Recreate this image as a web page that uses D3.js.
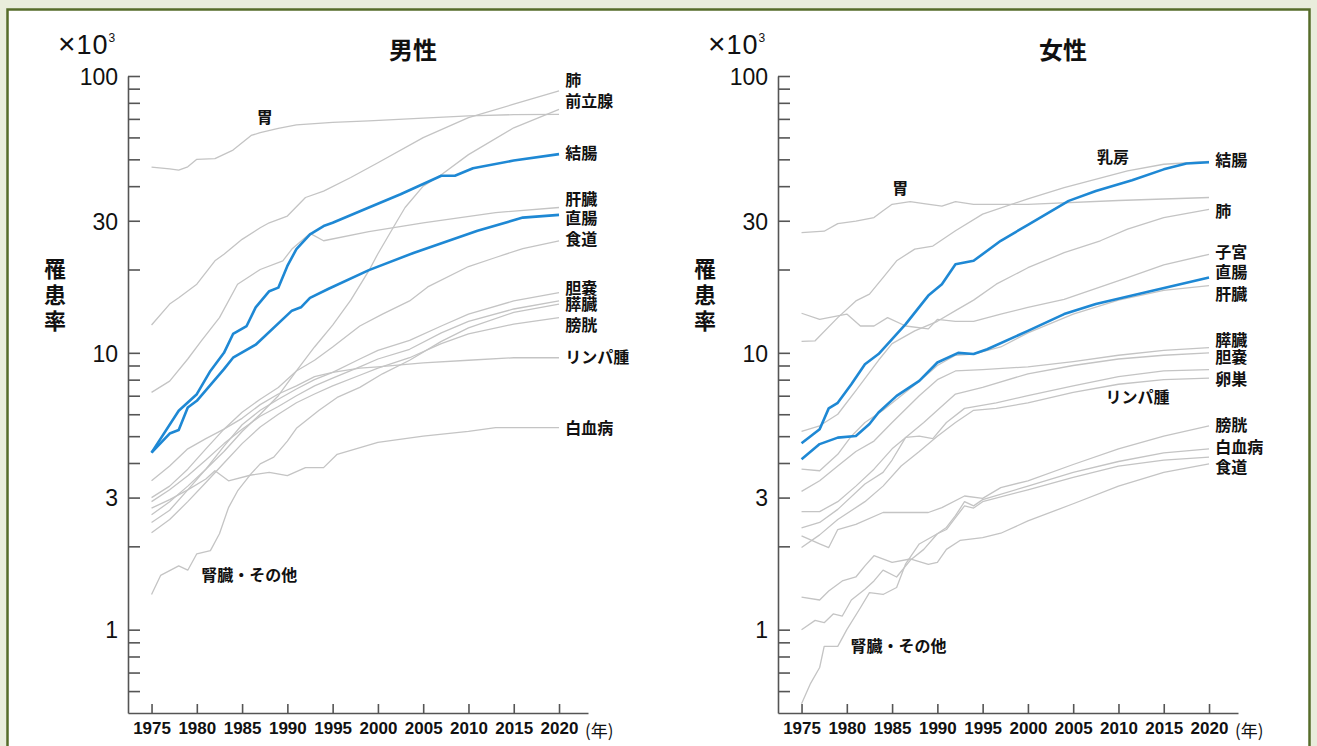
<!DOCTYPE html>
<html>
<head>
<meta charset="utf-8">
<script src="https://cdn.jsdelivr.net/npm/d3@7"></script>
<style>
  body { margin: 0; background: #e9eddc; }
  svg { display: block; }
</style>
</head>
<body>
<svg id="chart" width="1317" height="746"></svg>
<script>
// ---- data (values in 10^3) ----
const yearTicks = [1975, 1980, 1985, 1990, 1995, 2000, 2005, 2010, 2015, 2020];
const yLabelTicks = [1, 3, 10, 30, 100];
const yMinorTicks = [0.6, 0.7, 0.8, 0.9, 1, 2, 3, 4, 5, 6, 7, 8, 9, 10, 20, 30, 40, 50, 60, 70, 80, 90, 100];

// 男性
const mStomach = [[1975,46.9],[1977,46.2],[1978,45.7],[1979,47.0],[1980,50.0],[1982,50.3],[1984,54.0],[1986,61.0],[1987,62.4],[1989,64.7],[1991,66.6],[1995,68.0],[1999,68.8],[2005,70.5],[2010,71.8],[2015,72.5],[2020,72.7]];
const mLung = [[1975,12.6],[1977,15.0],[1978,15.8],[1980,17.7],[1982,21.5],[1983,22.7],[1985,25.7],[1987,28.3],[1988,29.5],[1990,31.2],[1992,36.4],[1994,38.4],[1997,43.0],[2000,48.6],[2005,59.9],[2010,70.7],[2015,79.1],[2020,88.3]];
const mProstate = [[1975,2.6],[1977,2.9],[1979,3.3],[1981,3.8],[1983,4.4],[1985,5.2],[1987,6.0],[1989,7.0],[1991,8.6],[1993,10.5],[1995,12.6],[1997,15.5],[1999,19.8],[2000,22.8],[2002,29.5],[2003,33.5],[2005,40.0],[2007,44.0],[2010,52.0],[2015,65.0],[2020,75.8]];
const mColon = [[1975,4.36],[1978,6.18],[1980,7.09],[1981.5,8.6],[1983,10.0],[1984,11.7],[1985.5,12.5],[1986.5,14.6],[1988,16.7],[1989,17.2],[1990,20.6],[1991,23.7],[1992.5,26.8],[1994,28.7],[1995,29.5],[1999,33.5],[2002.5,37.4],[2007,43.6],[2008.5,43.6],[2010.5,46.4],[2015,49.5],[2020,52.2]];
const mRectum = [[1975,4.36],[1977,5.11],[1978,5.26],[1979,6.35],[1980,6.71],[1983,8.73],[1984,9.6],[1986.5,10.7],[1990.5,14.2],[1991.5,14.6],[1992.5,15.8],[1994.5,17.0],[1999,19.9],[2004,23.0],[2011,27.6],[2016,30.8],[2020,31.5]];
const mLiver = [[1975,7.2],[1977,7.9],[1979,9.5],[1980.5,11.05],[1982.5,13.4],[1984.5,17.7],[1987,20.0],[1989.5,21.5],[1990.5,23.7],[1992.5,27.0],[1994,25.4],[1999,27.4],[2005,29.5],[2013,32.1],[2020,33.5]];
const mEsophagus = [[1975,3.0],[1977,3.3],[1979,3.8],[1981,4.5],[1983,5.3],[1985,6.1],[1987,6.8],[1989,7.5],[1991,8.6],[1993,9.4],[1995,10.5],[1998,12.5],[2000.5,13.8],[2003.5,15.4],[2005.5,17.3],[2010,20.5],[2013,22.1],[2016,23.8],[2020,25.4]];
const mGallbladder = [[1975,2.44],[1977,2.7],[1979,3.2],[1981,3.8],[1983,4.6],[1985,5.5],[1987,6.2],[1989,6.8],[1991,7.4],[1993,8.0],[1995,8.5],[1998,9.5],[2000,10.2],[2003.5,11.1],[2007,12.5],[2010,13.8],[2015,15.4],[2020,16.5]];
const mPancreas = [[1975,2.9],[1977,3.2],[1979,3.6],[1981,4.1],[1983,4.7],[1985,5.3],[1987,5.9],[1989,6.4],[1991,7.0],[1993,7.6],[1995,8.1],[1998,8.9],[2000,9.5],[2003.5,10.3],[2007,11.8],[2010,13.0],[2015,14.4],[2020,15.4]];
const mBladder = [[1975,2.24],[1977,2.5],[1979,2.9],[1981,3.4],[1983,4.0],[1985,4.7],[1987,5.4],[1989,6.0],[1991,6.6],[1993,7.1],[1995,7.6],[1998,8.3],[2000,8.8],[2003.5,9.6],[2007,10.8],[2010,11.7],[2015,12.7],[2020,13.4]];
const mLymphoma = [[1975,3.45],[1977,3.9],[1979,4.5],[1981,4.9],[1983,5.3],[1985,5.8],[1987,6.5],[1989,7.1],[1991,7.6],[1993,8.2],[1995,8.5],[1998,8.8],[2000,8.9],[2005,9.2],[2010,9.4],[2015,9.6],[2020,9.6]];
const mLeukemia = [[1975,2.75],[1977,2.95],[1979,3.2],[1981,3.5],[1982,3.75],[1983.5,3.45],[1986,3.62],[1988,3.7],[1990,3.6],[1992,3.85],[1994,3.85],[1995.5,4.3],[2000,4.75],[2005,5.0],[2010,5.2],[2013,5.37],[2020,5.37]];
const mKidney = [[1975,1.34],[1976,1.57],[1978,1.70],[1979,1.64],[1980,1.88],[1981.5,1.93],[1982.5,2.22],[1983.5,2.76],[1984.5,3.17],[1986,3.66],[1987,3.97],[1988.5,4.2],[1990,4.8],[1991,5.34],[1993.5,6.2],[1995.5,6.9],[1998,7.5],[2000.5,8.4],[2003.5,9.4],[2007,11.0],[2010,12.3],[2015,14.0],[2020,15.0]];

// 女性
const fStomach = [[1975,27.2],[1977.5,27.5],[1979,29.3],[1981,29.9],[1983,30.8],[1984,32.6],[1985,34.4],[1987,35.2],[1988.5,34.6],[1990.5,33.9],[1992,35.2],[1994,34.4],[2000,34.4],[2010,35.5],[2020,36.4]];
const fBreast = [[1975,11.0],[1976.5,11.05],[1979,13.4],[1981,15.4],[1982.5,16.3],[1984,18.7],[1985.5,21.5],[1987.5,23.7],[1989.5,24.3],[1992,27.6],[1995,31.7],[2000,36.0],[2004,39.5],[2011,45.4],[2015,48.0],[2020,49.1]];
const fColon = [[1975,4.71],[1976,5.0],[1977,5.3],[1978,6.3],[1979,6.6],[1980.5,7.7],[1982,9.1],[1983.5,9.9],[1986.5,12.7],[1989,16.1],[1990.5,17.7],[1992,20.9],[1994,21.5],[1997,25.4],[2000,29.0],[2004.5,35.4],[2007.5,38.4],[2011.5,42.0],[2015,46.0],[2017.5,48.3],[2020,48.8]];
const fRectum = [[1975,4.13],[1977,4.68],[1979,4.94],[1981,5.01],[1982.5,5.53],[1983.5,6.09],[1985.5,6.99],[1988,7.92],[1990,9.23],[1992.3,10.0],[1994,9.9],[1995.5,10.3],[2000,12.0],[2004,13.8],[2007.5,15.0],[2013.5,16.7],[2020,18.7]];
const fLung = [[1975,5.2],[1977,5.45],[1979,6.0],[1981,7.3],[1983.5,9.4],[1985,10.8],[1987.5,12.0],[1990,13.0],[1992,14.2],[1994,15.5],[1996.5,17.7],[2000,20.3],[2004,23.0],[2008,25.4],[2011,28.0],[2015,30.8],[2020,33.0]];
const fUterus = [[1975,13.9],[1977,13.2],[1979,13.6],[1980,13.8],[1981.5,12.5],[1983,12.5],[1984.5,13.4],[1986.5,12.5],[1989,12.2],[1990,13.2],[1992,13.0],[1994,13.0],[1997,13.8],[2000,14.6],[2004,15.6],[2011,18.7],[2015,20.8],[2020,22.7]];
const fLiver = [[1975,3.8],[1977,3.75],[1979,4.3],[1980.5,5.0],[1982,5.6],[1984,6.2],[1986,7.0],[1988,7.9],[1990,9.0],[1992,9.8],[1994,9.9],[1997,10.5],[2000,11.8],[2005,13.8],[2010,15.5],[2015,16.8],[2020,17.5]];
const fPancreas = [[1975,3.16],[1977,3.45],[1979,3.9],[1981,4.4],[1983,4.8],[1985,5.6],[1988,7.0],[1990,8.0],[1992,8.6],[1995,8.7],[2000,8.9],[2005,9.3],[2010,9.8],[2015,10.2],[2020,10.45]];
const fGallbladder = [[1975,2.67],[1977,2.67],[1979,2.9],[1981,3.3],[1983,3.8],[1985,4.5],[1987,5.1],[1988.5,5.6],[1990,6.2],[1992,7.1],[1995,7.5],[2000,8.4],[2005,9.0],[2010,9.5],[2015,9.8],[2020,10.0]];
const fOvary = [[1975,2.33],[1977,2.44],[1979,2.72],[1982,3.36],[1984,3.7],[1985,4.1],[1986.5,4.95],[1988,5.0],[1989.5,4.9],[1991,5.6],[1993,6.3],[1996.5,6.6],[2000,7.0],[2005,7.6],[2010,8.2],[2015,8.6],[2020,8.7]];
const fLymphoma = [[1975,1.98],[1977,2.2],[1979,2.5],[1982,2.9],[1984,3.3],[1986,3.9],[1988,4.4],[1990,5.0],[1992,5.6],[1994,6.2],[1996.5,6.3],[2000,6.6],[2005,7.2],[2010,7.7],[2015,8.0],[2020,8.1]];
const fBladder = [[1975,2.18],[1977,2.04],[1978,1.98],[1979,2.3],[1981,2.4],[1984,2.65],[1989,2.65],[1990.5,2.76],[1993,3.04],[1995,2.98],[1997,3.26],[2000,3.45],[2005,3.95],[2010,4.5],[2015,5.0],[2020,5.45]];
const fLeukemia = [[1975,1.0],[1976.5,1.08],[1977.5,1.06],[1978.5,1.14],[1979.5,1.12],[1980.5,1.28],[1982,1.4],[1983,1.5],[1984,1.64],[1985.5,1.55],[1987,1.78],[1988.5,1.95],[1990,2.22],[1991,2.34],[1992,2.58],[1993,2.9],[1994,2.8],[1995,2.95],[2000,3.3],[2005,3.7],[2010,4.05],[2015,4.35],[2020,4.5]];
const fKidney = [[1975,0.54],[1976,0.64],[1977,0.73],[1977.5,0.87],[1979,0.87],[1980,1.0],[1981.5,1.2],[1982.5,1.36],[1984,1.34],[1985.5,1.42],[1986.5,1.73],[1988,2.04],[1990,2.22],[1991,2.3],[1992,2.54],[1993,2.8],[1994,2.75],[1995,2.9],[2000,3.2],[2005,3.55],[2010,3.9],[2015,4.1],[2020,4.2]];
const fEsophagus = [[1975,1.31],[1977,1.28],[1978,1.38],[1979.5,1.5],[1981,1.55],[1982,1.7],[1983,1.85],[1985,1.75],[1987,1.8],[1989,1.72],[1990,1.75],[1991,1.95],[1992.5,2.1],[1995,2.15],[1997,2.23],[2000,2.47],[2005,2.85],[2010,3.3],[2015,3.7],[2020,3.97]];

const maleSeries = [
  { name: "胃", data: mStomach }, { name: "肺", data: mLung }, { name: "前立腺", data: mProstate },
  { name: "肝臓", data: mLiver }, { name: "食道", data: mEsophagus }, { name: "胆嚢", data: mGallbladder },
  { name: "膵臓", data: mPancreas }, { name: "膀胱", data: mBladder }, { name: "リンパ腫", data: mLymphoma },
  { name: "白血病", data: mLeukemia }, { name: "腎臓・その他", data: mKidney },
  { name: "直腸", data: mRectum, hl: true }, { name: "結腸", data: mColon, hl: true }
];
const femaleSeries = [
  { name: "胃", data: fStomach }, { name: "乳房", data: fBreast }, { name: "肺", data: fLung },
  { name: "子宮", data: fUterus }, { name: "肝臓", data: fLiver }, { name: "膵臓", data: fPancreas },
  { name: "胆嚢", data: fGallbladder }, { name: "卵巣", data: fOvary }, { name: "リンパ腫", data: fLymphoma },
  { name: "膀胱", data: fBladder }, { name: "白血病", data: fLeukemia }, { name: "腎臓・その他", data: fKidney },
  { name: "食道", data: fEsophagus },
  { name: "直腸", data: fRectum, hl: true }, { name: "結腸", data: fColon, hl: true }
];

// ラベル位置 (year, value) — 注記の置き場所
const maleLabels = [
  ["肺", 2020.7, 96.7, "start"], ["前立腺", 2020.7, 81.2, "start"], ["結腸", 2020.7, 52.7, "start"],
  ["肝臓", 2020.7, 35.9, "start"], ["直腸", 2020.7, 30.7, "start"], ["食道", 2020.7, 25.6, "start"],
  ["胆嚢", 2020.7, 17.1, "start"], ["膵臓", 2020.7, 14.9, "start"], ["膀胱", 2020.7, 12.6, "start"],
  ["リンパ腫", 2020.7, 9.6, "start"], ["白血病", 2020.7, 5.35, "start"],
  ["胃", 1987.5, 71.1, "middle"], ["腎臓・その他", 1980.5, 1.575, "start"]
];
const femaleLabels = [
  ["結腸", 2020.7, 49.7, "start"], ["肺", 2020.7, 32.3, "start"], ["子宮", 2020.7, 23.1, "start"],
  ["直腸", 2020.7, 19.6, "start"], ["肝臓", 2020.7, 16.2, "start"], ["膵臓", 2020.7, 11.1, "start"],
  ["胆嚢", 2020.7, 9.6, "start"], ["卵巣", 2020.7, 8.0, "start"], ["膀胱", 2020.7, 5.47, "start"],
  ["白血病", 2020.7, 4.56, "start"], ["食道", 2020.7, 3.86, "start"],
  ["乳房", 2009.4, 51.0, "middle"], ["胃", 1985.9, 39.4, "middle"],
  ["リンパ腫", 2012.1, 6.92, "middle"], ["腎臓・その他", 1980.4, 0.873, "start"]
];

// ---- drawing ----
const svg = d3.select("#chart");
const jp = "'Noto Sans CJK JP', 'Noto Sans', sans-serif";
const num = "'Liberation Sans', Arial, sans-serif";
const narrow = "'Liberation Sans Narrow', 'Liberation Sans', Arial, sans-serif";

// 枠
svg.append("rect")
  .attr("x", 7.5).attr("y", 9.5)
  .attr("width", 1302).attr("height", 770)
  .attr("fill", "#fff")
  .attr("stroke", "#566c2a")
  .attr("stroke-width", 2.5);

const yTop = 76, yBottom = 713;
const y = d3.scaleLog().domain([0.5, 100]).range([yBottom, yTop]);

function drawPanel(left, title, series, labels) {
  const x = d3.scaleLinear().domain([1972.4, 2023.2]).range([left, left + 460]);
  const g = svg.append("g");

  // y軸
  const yAxis = d3.axisLeft(y)
    .tickValues(yMinorTicks)
    .tickSizeInner(-12).tickSizeOuter(0)
    .tickPadding(10)
    .tickFormat(d => yLabelTicks.includes(d) ? String(d) : "");
  const ya = g.append("g").attr("transform", `translate(${left},0)`).call(yAxis);
  ya.select(".domain").attr("stroke", "#555").attr("stroke-width", 1.6);
  ya.selectAll(".tick line").attr("stroke", "#555").attr("stroke-width", 1.6);
  ya.selectAll(".tick text")
    .attr("fill", "#111")
    .style("font-family", num)
    .style("font-size", "23px")
    .attr("dy", "0.36em");

  // x軸
  const xAxis = d3.axisBottom(x)
    .tickValues(yearTicks)
    .tickSizeInner(-9).tickSizeOuter(0)
    .tickPadding(9)
    .tickFormat(d3.format("d"));
  const xa = g.append("g").attr("transform", `translate(0,${yBottom})`).call(xAxis);
  xa.select(".domain").attr("stroke", "#555").attr("stroke-width", 1.6);
  xa.selectAll(".tick line").attr("stroke", "#555").attr("stroke-width", 1.6);
  xa.selectAll(".tick text")
    .attr("fill", "#111")
    .style("font-family", narrow)
    .style("font-size", "17px")
    .style("font-weight", "bold");

  g.append("text")
    .attr("x", left + 457).attr("y", yBottom + 24)
    .style("font-family", jp).style("font-size", "17px")
    .attr("fill", "#111")
    .text("(年)");

  // 系列
  const line = d3.line().x(d => x(d[0])).y(d => y(d[1]));
  g.append("g").selectAll("path")
    .data(series)
    .enter()
    .append("path")
      .attr("d", d => line(d.data))
      .attr("fill", "none")
      .attr("stroke", d => d.hl ? "#1e88d4" : "#c4c4c4")
      .attr("stroke-width", d => d.hl ? 2.6 : 1.3)
      .attr("stroke-linejoin", "round");

  // ラベル
  g.append("g").selectAll("text")
    .data(labels)
    .enter()
    .append("text")
      .attr("x", d => x(d[1]))
      .attr("y", d => y(d[2]))
      .attr("dy", "0.35em")
      .attr("text-anchor", d => d[3])
      .style("font-family", jp)
      .style("font-size", "16px")
      .style("font-weight", "bold")
      .attr("fill", "#111")
      .text(d => d[0]);

  // タイトル・単位
  g.append("text")
    .attr("x", left + 285).attr("y", 59)
    .attr("text-anchor", "middle")
    .style("font-family", jp).style("font-size", "24px").style("font-weight", "bold")
    .attr("fill", "#111")
    .text(title);

  const unit = g.append("text")
    .attr("x", left - 70).attr("y", 54)
    .style("font-family", num).style("font-size", "27px")
    .style("letter-spacing", "1px")
    .attr("fill", "#111");
  unit.append("tspan").style("font-size", "30px").text("×");
  unit.append("tspan").text("10");
  unit.append("tspan").attr("dy", -12).style("font-size", "12px").text("3");

  g.append("g").selectAll("text")
    .data(["罹", "患", "率"])
    .enter()
    .append("text")
      .attr("x", left - 73)
      .attr("y", (d, i) => 269 + i * 26)
      .attr("dy", "0.35em")
      .attr("text-anchor", "middle")
      .style("font-family", jp).style("font-size", "22px").style("font-weight", "bold")
      .attr("fill", "#111")
      .text(d => d);
}

drawPanel(128, "男性", maleSeries, maleLabels);
drawPanel(778, "女性", femaleSeries, femaleLabels);
</script>
</body>
</html>
